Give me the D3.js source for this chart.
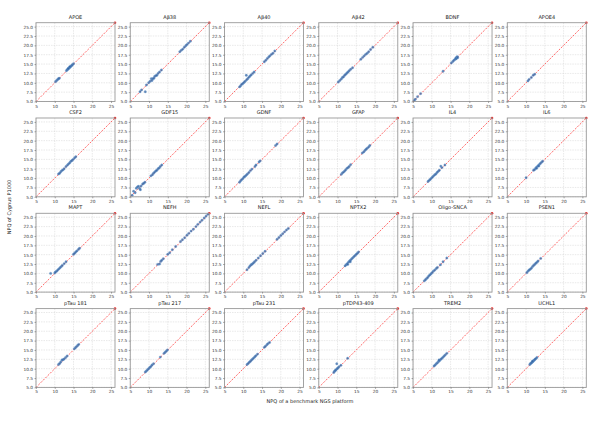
<!DOCTYPE html>
<html><head><meta charset="utf-8">
<script src="https://cdn.jsdelivr.net/npm/d3@7"></script>
<style>body{margin:0;background:#fff}svg{display:block}text{font-family:"DejaVu Sans",sans-serif}</style>
</head><body><svg id="c" width="609" height="426"></svg>
<script>
const panelNames = ["APOE","Aβ38","Aβ40","Aβ42","BDNF","APOE4","CSF2","GDF15","GDNF","GFAP","IL4","IL6","MAPT","NEFH","NEFL","NPTX2","Oligo-SNCA","PSEN1","pTau 181","pTau 217","pTau 231","pTDP43-409","TREM2","UCHL1"];
const xTicks = [5,10,15,20,25];
const yTicks = [5.0,7.5,10.0,12.5,15.0,17.5,20.0,22.5,25.0];
const axisMin = 5, axisMax = 26.05;

const APOE = [[10.2,10.3],[10.5,10.6],[10.8,10.9],[11.0,11.1],[11.2,11.2],[13.1,13.2],[13.3,13.5],[13.5,13.6],[13.7,13.9],[13.9,14.0],[14.1,14.2],[14.3,14.4],[14.5,14.6],[14.7,14.8],[15.0,15.1],[13.6,13.8],[14.0,14.3]];
const AB38 = [[7.6,7.6],[8.0,8.1],[9.0,7.6],[9.3,9.4],[9.9,10.0],[10.3,10.4],[10.6,11.1],[10.8,10.6],[11.0,11.1],[11.3,11.2],[11.5,11.7],[11.8,11.9],[12.1,12.0],[12.4,12.5],[12.8,12.9],[13.3,13.4],[18.2,18.3],[18.6,18.7],[19.0,19.0],[19.4,19.5],[19.8,19.9],[20.1,20.2],[20.5,20.6],[21.0,21.1]];
const AB40 = [[9.0,8.9],[9.3,9.2],[9.6,9.6],[9.9,9.8],[10.2,10.1],[10.5,10.4],[10.8,12.0],[10.9,10.8],[11.2,11.1],[11.5,11.5],[11.8,11.8],[12.1,12.1],[12.5,12.5],[12.9,12.9],[15.6,15.6],[16.0,16.0],[16.4,16.5],[16.8,16.9],[17.1,17.2],[17.5,17.6],[17.9,17.9],[18.4,18.5]];
const AB42 = [[10.2,10.2],[10.6,10.6],[11.0,11.0],[11.3,11.4],[11.6,11.6],[11.9,12.0],[12.2,12.3],[12.5,12.6],[12.8,12.9],[13.1,13.2],[13.5,13.6],[14.0,14.0],[16.2,16.3],[16.7,16.8],[17.1,17.2],[17.5,17.6],[17.9,17.9],[18.3,18.3],[18.8,18.9],[19.4,19.5]];
const BDNF = [[5.3,5.3],[5.6,5.6],[6.2,6.3],[7.0,7.1],[13.0,13.1],[15.2,15.3],[15.6,15.7],[15.9,16.0],[16.2,16.3],[16.4,16.6],[16.6,16.8],[16.8,17.0],[16.5,16.4],[16.9,16.7]];
const APOE4 = [[10.5,10.5],[10.8,10.9],[11.4,11.4],[11.9,12.0],[12.3,12.3]];
const CSF2 = [[11.0,11.1],[11.3,11.3],[11.6,11.7],[11.9,12.0],[12.2,12.2],[12.5,12.5],[13.0,13.1],[13.4,13.5],[13.7,13.8],[14.0,14.1],[14.3,14.5],[14.6,14.7],[14.9,15.0],[15.3,15.4],[15.6,15.7]];
const GDF15 = [[5.5,5.4],[5.9,6.5],[6.3,6.1],[6.6,7.3],[6.9,7.6],[7.2,7.8],[7.5,7.2],[7.7,6.9],[7.9,7.9],[8.3,8.4],[8.6,8.6],[8.9,8.9],[10.5,10.6],[10.9,10.9],[11.2,11.3],[11.5,11.6],[11.8,11.9],[12.1,12.1],[12.4,12.5],[12.7,12.7],[13.0,13.1],[13.4,13.5]];
const GDNF = [[9.0,8.9],[9.3,9.3],[9.6,9.6],[9.9,9.9],[10.2,10.3],[10.5,10.5],[10.8,10.8],[11.1,11.1],[11.5,11.5],[11.9,12.0],[12.3,12.4],[13.1,13.1],[13.4,13.5],[14.2,14.3],[14.5,14.6],[18.6,18.7],[19.0,19.1]];
const GFAP = [[11.0,11.0],[11.3,11.4],[11.6,11.6],[11.9,11.9],[12.2,12.2],[12.5,12.6],[12.8,12.8],[13.1,13.1],[13.5,13.6],[16.6,16.7],[17.0,17.0],[17.3,17.4],[17.6,17.7],[17.9,18.0],[18.3,18.3],[18.6,18.7]];
const IL4 = [[9.0,9.1],[9.3,9.4],[9.6,9.7],[9.9,10.0],[10.2,10.3],[10.5,10.6],[10.8,10.9],[11.1,11.1],[11.4,11.5],[11.7,11.8],[12.0,12.1],[12.4,13.2],[12.7,12.8],[13.5,13.5]];
const IL6 = [[10.0,10.1],[12.0,12.1],[12.3,12.3],[12.6,12.7],[12.9,13.0],[13.2,13.3],[13.5,13.6],[13.8,13.9],[14.1,14.2],[14.4,14.5],[12.8,12.6],[13.4,13.2]];
const MAPT = [[8.9,10.0],[10.0,10.1],[10.2,10.4],[10.5,10.6],[10.8,10.9],[11.1,11.2],[11.4,11.5],[11.7,11.8],[12.0,12.1],[12.5,12.6],[13.0,13.1],[15.0,15.1],[15.3,15.4],[15.6,15.7],[15.9,16.0],[16.3,16.4],[16.6,16.7]];
const NEFH = [[12.3,12.4],[12.8,12.5],[13.1,13.2],[13.4,13.5],[13.8,13.9],[15.0,15.1],[15.5,15.5],[16.2,16.3],[17.1,17.2],[18.4,18.5],[18.9,19.0],[19.5,19.5],[20.1,20.2],[20.6,20.7],[21.2,21.3],[21.8,21.8],[22.5,22.5],[23.0,23.1],[23.6,23.7],[24.1,24.2],[24.7,24.8],[25.2,25.3],[25.7,25.8]];
const NEFL = [[11.0,11.0],[11.5,11.6],[11.8,12.0],[12.1,12.3],[12.4,12.5],[12.7,12.8],[13.0,13.1],[13.4,13.5],[14.0,14.1],[14.6,14.7],[15.2,15.3],[15.8,15.9],[19.0,19.1],[19.5,19.6],[20.0,20.1],[20.5,20.6],[21.0,21.1],[21.5,21.6],[22.0,22.0]];
const NPTX2 = [[12.0,12.0],[12.3,12.3],[12.6,12.6],[12.9,13.0],[13.2,13.3],[13.5,13.6],[13.8,13.9],[14.1,14.2],[14.4,14.5],[14.7,14.8],[15.0,15.1],[15.3,15.4],[15.6,15.7],[12.7,12.4],[13.4,13.1]];
const OLIGO = [[8.0,8.0],[8.3,8.3],[8.6,8.6],[8.9,8.9],[9.2,9.3],[9.5,9.6],[9.8,9.9],[10.1,10.2],[10.4,10.6],[10.8,10.9],[11.2,11.3],[11.5,11.6],[12.3,12.3],[13.0,13.1],[14.0,14.1]];
const PSEN1 = [[10.2,10.2],[10.5,10.6],[10.8,10.9],[11.1,11.1],[11.4,11.4],[11.7,11.8],[12.0,12.1],[12.3,12.4],[12.6,12.7],[12.9,13.0],[13.2,13.3],[13.9,14.0]];
const PTAU181 = [[11.0,11.1],[11.3,11.4],[11.6,11.8],[11.9,12.3],[12.2,12.4],[12.5,12.6],[12.9,13.0],[13.3,13.4],[15.2,15.3],[15.5,15.6],[15.8,15.9],[16.1,16.2],[16.4,16.5]];
const PTAU217 = [[9.0,9.1],[9.3,9.4],[9.6,9.7],[9.9,10.0],[10.2,10.3],[10.5,10.6],[10.8,11.0],[11.2,11.3],[13.0,13.1],[14.0,14.1],[14.3,14.4],[14.6,14.7],[14.9,15.0]];
const PTAU231 = [[11.0,11.1],[11.3,11.4],[11.6,11.7],[11.9,12.0],[12.2,12.3],[12.5,12.6],[12.8,12.9],[13.1,13.2],[13.4,13.5],[13.8,13.9],[15.6,15.7],[15.9,16.0],[16.3,16.4],[16.6,16.7],[17.0,17.0]];
const PTDP43 = [[9.0,9.0],[9.2,9.3],[9.4,9.5],[9.6,9.7],[9.8,11.3],[9.9,10.0],[10.1,10.2],[10.4,10.5],[10.9,10.9],[12.7,12.8]];
const TREM2 = [[10.6,10.7],[10.9,11.0],[11.2,11.3],[11.5,11.6],[11.8,11.9],[12.1,12.2],[12.4,12.5],[12.7,12.8],[13.0,13.1],[13.3,13.4],[13.6,13.7],[14.0,14.1],[11.9,12.3]];
const UCHL1 = [[11.0,11.1],[11.2,11.4],[11.4,11.5],[11.6,11.7],[11.8,11.9],[12.0,12.1],[12.2,12.3],[12.4,12.5],[12.6,12.7],[12.9,13.0],[11.7,12.0]];
const panelData = [APOE,AB38,AB40,AB42,BDNF,APOE4,CSF2,GDF15,GDNF,GFAP,IL4,IL6,MAPT,NEFH,NEFL,NPTX2,OLIGO,PSEN1,PTAU181,PTAU217,PTAU231,PTDP43,TREM2,UCHL1];

const svg = d3.select("#c");
const pw = 79, ph = 78.8, left0 = 36, top0 = 22.7, dx = 94.26, dy = 95.3;
const x = d3.scaleLinear().domain([axisMin, axisMax]).range([0, pw]);
const y = d3.scaleLinear().domain([axisMin, axisMax]).range([ph, 0]);

panelNames.forEach((name, i) => {
  const c = i % 6, r = Math.floor(i / 6);
  const g = svg.append("g").attr("transform", `translate(${left0 + c*dx},${top0 + r*dy})`);
  g.selectAll("line.gx").data(xTicks).join("line").attr("class", "gx")
    .attr("x1", d => x(d)).attr("x2", d => x(d)).attr("y1", 0).attr("y2", ph)
    .attr("stroke", "#d2d2d2").attr("stroke-width", 0.5).attr("stroke-dasharray", "1.5,1");
  g.selectAll("line.gy").data(yTicks).join("line").attr("class", "gy")
    .attr("y1", d => y(d)).attr("y2", d => y(d)).attr("x1", 0).attr("x2", pw)
    .attr("stroke", "#d2d2d2").attr("stroke-width", 0.5).attr("stroke-dasharray", "1.5,1");
  g.append("line").attr("class", "diag")
    .attr("x1", x(axisMin)).attr("y1", y(axisMin)).attr("x2", x(axisMax)).attr("y2", y(axisMax))
    .attr("stroke", "#ff4040").attr("stroke-width", 0.8).attr("stroke-dasharray", "2,1.3");
  g.append("circle").attr("cx", x(axisMax)).attr("cy", y(axisMax)).attr("r", 1.3).attr("fill", "#e83030");
  g.selectAll("circle.pt").data(panelData[i]).join("circle").attr("class", "pt")
    .attr("cx", d => x(d[0])).attr("cy", d => y(d[1])).attr("r", 1.2)
    .attr("fill", "#2f5f9e").attr("fill-opacity", 0.75)
    .attr("stroke", "#6a9fd6").attr("stroke-width", 0.3);
  g.append("rect").attr("width", pw).attr("height", ph).attr("fill", "none")
    .attr("stroke", "#999").attr("stroke-width", 0.9);
  const ax = g.append("g").attr("transform", `translate(0,${ph})`)
    .call(d3.axisBottom(x).tickValues(xTicks).tickSize(1.5).tickPadding(1.5).tickFormat(d3.format("d")));
  const ay = g.append("g")
    .call(d3.axisLeft(y).tickValues(yTicks).tickSize(1.5).tickPadding(1.5).tickFormat(d3.format(".1f")));
  [ax, ay].forEach(a => {
    a.select(".domain").remove();
    a.selectAll("line").attr("stroke", "#555").attr("stroke-width", 0.5);
    a.selectAll("text").attr("font-size", 4.3).attr("fill", "#333").attr("font-family", "DejaVu Sans, sans-serif");
  });
  g.append("text").attr("x", pw/2).attr("y", -4).attr("text-anchor", "middle")
    .attr("font-size", 5).attr("fill", "#222").text(name);
});

svg.append("text").attr("x", 310).attr("y", 403).attr("text-anchor", "middle")
  .attr("font-size", 5).attr("fill", "#222").text("NPQ of a benchmark NGS platform");
svg.append("text").attr("transform", "translate(11,207) rotate(-90)").attr("text-anchor", "middle")
  .attr("font-size", 5).attr("fill", "#222").text("NPQ of Cygnus P1000");
</script></body></html>
